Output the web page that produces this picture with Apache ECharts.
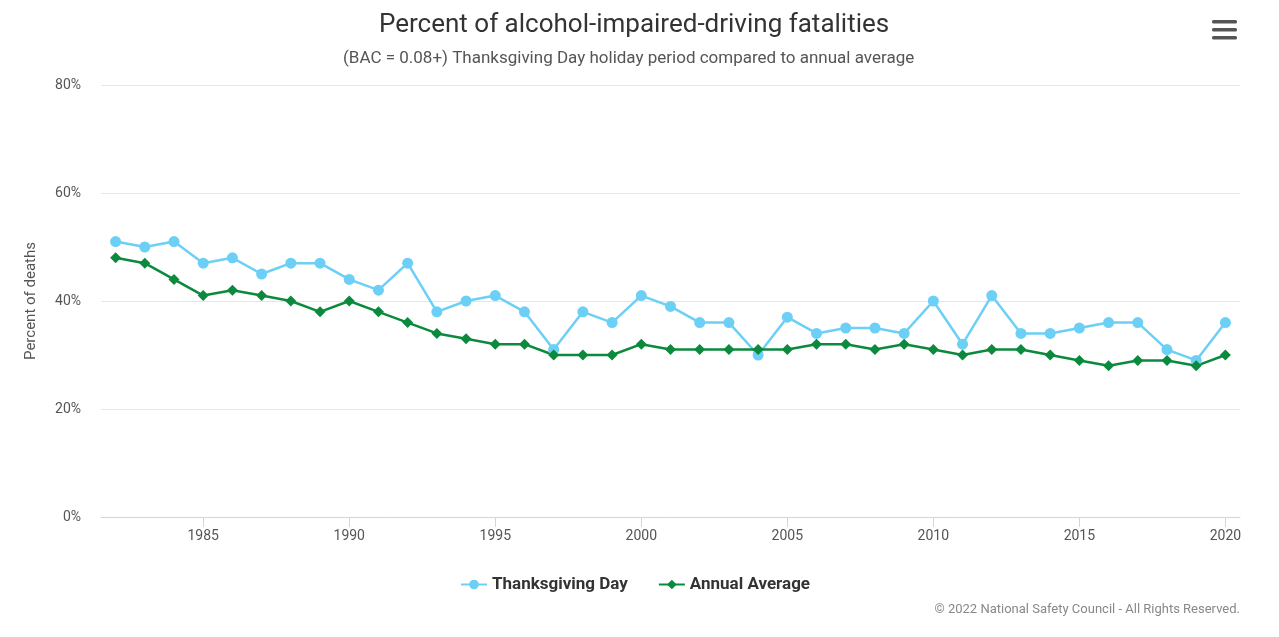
<!DOCTYPE html>
<html><head><meta charset="utf-8">
<script src="https://cdn.jsdelivr.net/npm/echarts@6/dist/echarts.min.js"></script>
<style>html,body{margin:0;padding:0;background:#fff}#c{width:1279px;height:637px}</style>
</head><body><div id="c"></div>
<script>
const years = [];
for (let y = 1982; y <= 2020; y++) years.push(y);
const thanksgiving = [51,50,51,47,48,45,47,47,44,42,47,38,40,41,38,31,38,36,41,39,36,36,30,37,34,35,35,34,40,32,41,34,34,35,36,36,31,29,36];
const annualAvg = [48,47,44,41,42,41,40,38,40,38,36,34,33,32,32,30,30,30,32,31,31,31,31,31,32,32,31,32,31,30,31,31,30,29,28,29,29,28,30];
const xTicks = [1985,1990,1995,2000,2005,2010,2015,2020];
const font = 'Roboto, "Noto Sans", sans-serif';
const chart = echarts.init(document.getElementById('c'));
chart.setOption({
  animation: false,
  textStyle: {fontFamily: font},
  title: [{
    text: 'Percent of alcohol-impaired-driving fatalities',
    left: 374, top: 7,
    textStyle: {fontSize: 26, fontWeight: 'normal', color: '#333', fontFamily: font}
  }, {
    text: '(BAC = 0.08+) Thanksgiving Day holiday period compared to annual average',
    left: 338, top: 45,
    textStyle: {fontSize: 17, fontWeight: 'normal', color: '#555', fontFamily: font}
  }],
  legend: {
    bottom: 39, left: 455, itemGap: 30, itemWidth: 26, itemHeight: 12,
    textStyle: {fontSize: 17, fontWeight: 'bold', color: '#333', fontFamily: font},
    data: ['Thanksgiving Day', 'Annual Average']
  },
  grid: {left: 101, right: 39, top: 85, bottom: 120},
  xAxis: {
    type: 'value', min: 1981.5, max: 2020.5,
    axisLine: {lineStyle: {color: '#ccd6eb'}},
    axisTick: {show: true, customValues: xTicks, length: 10, lineStyle: {color: '#ccd6eb'}},
    axisLabel: {customValues: xTicks, color: '#555', fontSize: 14, margin: 12, formatter: v => String(v)},
    splitLine: {show: false}
  },
  yAxis: {
    type: 'value', min: 0, max: 80, interval: 20,
    name: 'Percent of deaths', nameLocation: 'middle', nameGap: 62,
    nameTextStyle: {fontSize: 15, color: '#555'},
    axisLine: {show: false}, axisTick: {show: false},
    axisLabel: {formatter: '{value}%', color: '#555', fontSize: 14, margin: 20},
    splitLine: {lineStyle: {color: '#e6e6e6'}}
  },
  series: [
    {name: 'Thanksgiving Day', type: 'line', data: years.map((y,i)=>[y, thanksgiving[i]]),
     color: '#6ccff6', symbol: 'circle', symbolSize: 11, lineStyle: {width: 2.5}},
    {name: 'Annual Average', type: 'line', data: years.map((y,i)=>[y, annualAvg[i]]),
     color: '#0b8a3e', symbol: 'diamond', symbolSize: 11, lineStyle: {width: 2.5}}
  ],
  graphic: [
    {type: 'rect', left: 1212, top: 20, shape: {width: 25, height: 3.5, r: 1.5}, style: {fill: '#555'}},
    {type: 'rect', left: 1212, top: 28, shape: {width: 25, height: 3.5, r: 1.5}, style: {fill: '#555'}},
    {type: 'rect', left: 1212, top: 36, shape: {width: 25, height: 3.5, r: 1.5}, style: {fill: '#555'}},
    {type: 'text', right: 39, top: 603, style: {text: '© 2022 National Safety Council - All Rights Reserved.', fill: '#888', fontSize: 13, fontFamily: font}}
  ]
});
</script></body></html>
